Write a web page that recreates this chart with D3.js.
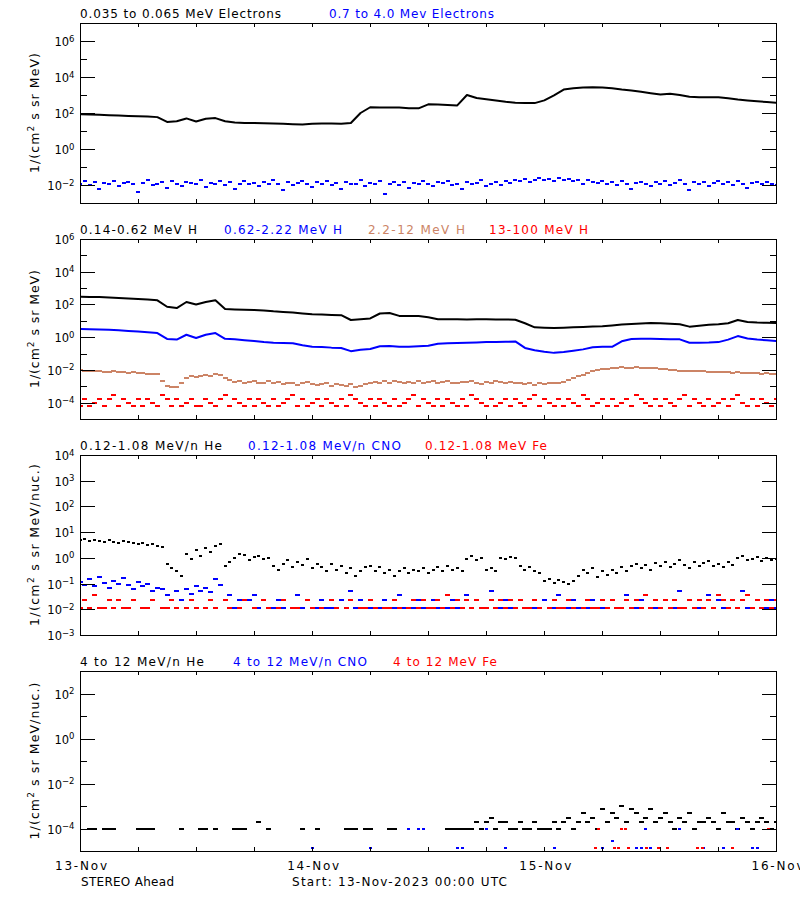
<!DOCTYPE html>
<html><head><meta charset="utf-8">
<script src="https://cdn.jsdelivr.net/npm/d3@7"></script>
<style>
body{margin:0;background:#fff}
svg{display:block}
text{font-family:"DejaVu Sans",sans-serif;}
</style>
</head><body>
<svg id="chart" width="800" height="900"></svg>
<script>
// ---------------- DATA ----------------
const dayLabels = ["13-Nov","14-Nov","15-Nov","16-Nov"];
const dayHours = [0,24,48,72];

// Panel 1 : electrons
const eLowHourly = [85,83,79,76,72,68,66,63,59,32,35,50,34,48,52,35,30,28,28,27,26,25,24,23,25,26,26,25,28,100,209,204,200,200,186,182,302,295,282,263,1000,676,575,501,417,372,363,355,501,955,1995,2399,2630,2692,2630,2344,1995,1778,1514,1259,1072,1175,1000,794,759,741,741,661,562,501,447,407,372];
const eHighHalfHourly = [.012,.016,.010,.014,.006,.013,.011,.017,.009,.013,
.015,.011,.004,.013,.018,.010,.012,.014,.007,.016,
.012,.009,.015,.013,.011,.019,.008,.013,.012,.016,
.010,.014,.006,.012,.017,.011,.013,.009,.015,.012,
.018,.012,.005,.014,.010,.013,.016,.011,.008,.014,
.012,.017,.010,.013,.006,.015,.011,.012,.018,.009,
.013,.011,.016,.003,.012,.014,.010,.015,.007,.013,
.012,.016,.011,.009,.014,.013,.017,.010,.012,.006,
.015,.011,.013,.018,.009,.012,.014,.010,.016,.013,
.020,.017,.022,.015,.019,.024,.018,.021,.016,.023,
.019,.022,.017,.020,.012,.018,.015,.013,.016,.011,
.014,.010,.017,.012,.006,.013,.015,.011,.009,.014,
.012,.016,.010,.013,.018,.011,.005,.014,.012,.015,
.009,.013,.017,.011,.014,.010,.016,.012,.007,.013,
.015,.011,.014,.012,.010];

// Panel 2 : protons
const h1Hourly = [295,288,282,269,251,229,214,200,178,72,
60,141,100,141,178,52,50,48,46,43,
38,35,32,28,25,24,23,22,11.2,12.6,
14,28,30,20,20,19.5,16.6,12.6,12.3,12.6,
12,12.6,12.3,12,12,
11.7,7.1,4.0,3.8,3.7,3.8,4.0,4.2,4.5,4.7,5.2,5.9,6.3,6.9,7.4,7.1,6.6,6.2,4.4,5.0,5.8,6.2,7.1,11.2,8.5,7.9,7.6,7.4];
const h2Hourly = [3.16,3.09,2.95,2.82,2.63,2.40,2.19,2.0,1.78,0.78,
0.71,1.41,0.89,1.41,1.78,0.79,0.74,0.66,0.59,0.50,
0.46,0.44,0.42,0.32,0.26,0.25,0.23,0.22,0.14,0.17,
0.19,0.28,0.29,0.26,0.26,0.28,0.30,0.40,0.42,0.44,
0.46,0.48,0.50,0.50,0.52,0.55,0.22,0.16,0.13,0.11,
0.126,0.15,0.18,0.24,0.26,0.26,0.56,0.78,0.79,0.79,
0.78,0.76,0.74,0.46,0.46,0.47,0.50,0.71,1.17,0.83,
0.72,0.65,0.59];
const h3HalfHourly = [.0095,.0088,.0092,.0080,.0085,.0078,.0074,.0080,.0070,.0073,
.0066,.0071,.0062,.0066,.0060,.0058,.0055,.0020,.0011,.0009,
.0009,.0016,.0034,.0045,.0035,.0042,.0048,.0040,.0058,.0050,
.0032,.0025,.0018,.0022,.0016,.0019,.0021,.0015,.0017,.0020,
.0015,.0018,.0013,.0017,.0016,.0012,.0015,.0018,.0014,.0012,
.0013,.0016,.0011,.0014,.0012,.0010,.0013,.0009,.0011,.0014,
.0016,.0019,.0015,.0020,.0017,.0021,.0018,.0016,.0019,.0017,
.0021,.0015,.0018,.0020,.0016,.0019,.0022,.0017,.0015,.0019,
.0018,.0021,.0016,.0014,.0019,.0017,.0021,.0018,.0016,.0019,
.0015,.0017,.0014,.0016,.0012,.0015,.0013,.0016,.0015,.0017,
.0018,.0024,.0032,.0042,.0052,.0065,.0080,.0095,.0110,.0120,
.0132,.0140,.0145,.0140,.0138,.0142,.0135,.0140,.0132,.0128,
.0120,.0112,.0105,.0098,.0092,.0090,.0087,.0085,.0082,.0080,
.0078,.0075,.0072,.0074,.0070,.0068,.0071,.0066,.0064,.0067,
.0062,.0060,.0063,.0058,.0057];
const h4HalfHourly = [6e-5,1.6e-4,6e-5,1e-4,1.6e-4,6e-5,1.6e-4,3e-4,6e-5,1.6e-4,
1e-4,6e-5,1.6e-4,6e-5,1.6e-4,1e-4,6e-5,3e-4,1.6e-4,6e-5,
1.6e-4,6e-5,1e-4,1.6e-4,6e-5,6e-5,1.6e-4,1e-4,6e-5,1.6e-4,
3e-4,6e-5,1.6e-4,1e-4,6e-5,1.6e-4,6e-5,1.6e-4,1e-4,6e-5,
1.6e-4,6e-5,1e-4,1.6e-4,3e-4,6e-5,1.6e-4,6e-5,1e-4,1.6e-4,
6e-5,1.6e-4,1e-4,6e-5,1.6e-4,6e-5,3e-4,1.6e-4,1e-4,6e-5,
1.6e-4,6e-5,1.6e-4,1e-4,6e-5,1.6e-4,6e-5,1e-4,1.6e-4,3e-4,
6e-5,1.6e-4,1e-4,6e-5,1.6e-4,6e-5,1.6e-4,1e-4,6e-5,1.6e-4,
6e-5,3e-4,1.6e-4,1e-4,6e-5,1.6e-4,6e-5,1e-4,1.6e-4,6e-5,
1.6e-4,1e-4,6e-5,1.6e-4,3e-4,6e-5,1.6e-4,1e-4,6e-5,1.6e-4,
6e-5,1.6e-4,1e-4,6e-5,3e-4,1.6e-4,6e-5,1e-4,1.6e-4,6e-5,
1.6e-4,6e-5,1e-4,1.6e-4,6e-5,3e-4,1.6e-4,1e-4,6e-5,1.6e-4,
6e-5,1.6e-4,1e-4,6e-5,1.6e-4,3e-4,6e-5,1.6e-4,1e-4,6e-5,
1.6e-4,6e-5,1e-4,1.6e-4,6e-5,1.6e-4,3e-4,1e-4,6e-5,1.6e-4,
6e-5,1.6e-4,1e-4,6e-5,1.6e-4];

// Panel 3 : 0.12-1.08 MeV/n ions (0 = no count)
const heLowHalfHourly = [4.8,5.3,4.4,5.0,4.6,4.2,4.9,4.3,3.9,4.5,
4.1,3.7,3.4,3.9,3.2,3.5,2.9,2.6,0.6,0.4,
0.3,0.2,1.4,0.9,2.0,1.2,2.4,1.7,3.0,3.5,
0.5,0.7,1.0,1.4,1.3,0.8,1.1,1.2,0.9,1.0,
0.5,0.35,0.6,0.8,0.45,0.7,0.55,0.9,0.4,0.6,
0.45,0.3,0.6,0.35,0.5,0.25,0.4,0.2,0.3,0.45,
0.5,0.3,0.45,0.25,0.35,0.2,0.3,0.4,0.25,0.35,
0.3,0.4,0.25,0.35,0.45,0.3,0.5,0.35,0.4,0.3,
0.9,1.2,0.8,1.0,0.35,0.4,0.3,1.0,0.9,1.1,
1.0,0.5,0.35,0.45,0.3,0.25,0.13,0.15,0.11,0.14,
0.12,0.10,0.13,0.2,0.35,0.25,0.4,0.18,0.3,0.22,
0.35,0.25,0.45,0.3,0.5,0.6,0.4,0.55,0.35,0.65,
0.5,0.7,0.45,0.6,0.8,0.55,0.4,0.7,0.5,0.65,
0.75,0.5,0.6,0.45,0.7,0.55,1.0,1.2,0.8,0.9,
1.1,0.75,0.95,0.85,0.9];
const cnoLowHalfHourly = [.12,.09,.15,.08,.18,.11,.07,.13,.10,.16,
.09,.06,.12,.08,.10,.05,.07,.06,.035,.024,
.05,.024,.06,.04,.08,.05,.07,.045,.15,.09,
.024,.035,.011,.024,0,.024,.035,.011,.024,0,
.011,.024,.011,0,.011,.035,.011,.024,.011,.011,
.024,.011,.011,0,.024,.011,.05,.011,.024,.011,
.011,0,.011,.024,.011,.011,.035,.011,0,.011,
.024,.011,.011,.024,.011,0,.011,.024,.011,.011,
.035,.011,.024,.011,.011,.05,.011,.011,.024,.011,
.011,.024,.011,0,.011,.011,.024,.011,.011,.035,
.011,.011,.024,.011,0,.011,.024,.011,.011,.011,
.024,.011,.011,.035,.011,.011,.024,0,.011,.011,
.011,.024,.011,.011,.05,.011,.024,.011,.011,.011,
.035,.011,.024,.011,.011,.024,.011,.05,.011,.011,
.024,.011,.011,.024,.011];
const feLowHalfHourly = [.011,.024,.011,.035,.011,.011,.024,.011,.024,.011,
.011,.024,0,.011,.011,.024,0,.011,.011,.024,
.011,0,.011,.024,.011,0,.011,.024,.011,0,
.024,.011,0,.011,.024,0,.011,0,.024,.011,
0,.011,.024,0,.011,.011,0,.024,.011,0,
.011,0,.024,.011,0,.011,.024,0,.011,.011,
.024,.011,0,.011,.011,.024,.011,0,.011,.024,
.011,.024,.011,.011,.024,.011,.035,.011,.024,.011,
.024,.011,.024,.011,.011,.024,.011,.024,.011,.024,
.011,.024,.011,.011,.024,.011,0,.011,.024,.011,
.011,.024,.011,0,.011,.024,.011,.011,.024,.011,
.024,.011,.011,.024,.011,.024,.011,.035,.011,.024,
.011,.024,.011,.024,.011,.011,.024,.011,.024,.011,
.024,.011,.035,.024,.011,.024,.011,.024,.035,.011,
.024,.011,.024,.011,.024];

// Panel 4 : 4-12 MeV/n ions (0 = no count)
const heHighHalfHourly = [0,0,1e-4,1e-4,0,1e-4,1e-4,1e-4,0,0,
0,0,1e-4,1e-4,1e-4,1e-4,0,0,0,0,
0,1e-4,0,0,0,1e-4,1e-4,0,1e-4,0,
0,0,1e-4,1e-4,1e-4,0,0,2e-4,0,1e-4,
0,0,0,0,0,0,1e-4,0,0,1e-4,
0,0,0,0,0,1e-4,1e-4,1e-4,0,1e-4,
1e-4,0,0,0,1e-4,1e-4,0,0,0,0,
0,0,0,0,0,0,1e-4,1e-4,1e-4,1e-4,
1e-4,1e-4,2e-4,1e-4,2e-4,3e-4,1e-4,2e-4,2e-4,1e-4,
1e-4,2e-4,1e-4,1e-4,2e-4,1e-4,1e-4,1e-4,2e-4,1e-4,
2e-4,3e-4,1e-4,2e-4,5e-4,2e-4,3e-4,1e-4,7e-4,2e-4,
5e-4,3e-4,1e-3,2e-4,7e-4,5e-4,2e-4,3e-4,7e-4,2e-4,
3e-4,5e-4,2e-4,1e-4,3e-4,2e-4,5e-4,1e-4,2e-4,2e-4,
3e-4,2e-4,1e-4,5e-4,2e-4,2e-4,1e-4,3e-4,2e-4,1e-4,
2e-4,3e-4,2e-4,1e-4,2e-4];
const cnoHighHours = [24,30,34,35,35.5,39,39.5,42,44,49,54,55,57.5,58,58.5,59,62,64.5,66.5,68,69.5,70];
const cnoHighValues = [1.4e-5,1.4e-5,1e-4,1e-4,1e-4,1.4e-5,1.4e-5,1e-4,1.4e-5,1.4e-5,1.4e-5,2.8e-5,1.4e-5,1.4e-5,1e-4,1.4e-5,1e-4,1.4e-5,1.4e-5,1e-4,1.4e-5,1.4e-5];
const feHighHours = [53.3,53.6,55.3,55.7,56,56.4,56.7,58.6,59.8,60.7,63.8,64.3,67.4,71.2];
const feHighValues = [1.4e-5,1e-4,1.4e-5,1.4e-5,1e-4,1e-4,1.4e-5,1.4e-5,1.4e-5,1.4e-5,1.4e-5,1.4e-5,1.4e-5,1e-4];

// ---------------- STYLE / LAYOUT ----------------
const BLACK = "#000000", BLUE = "#0000ff", RED = "#ff0000", BROWN = "#cc8466";
const svg = d3.select("#chart");
const x = d3.scaleLinear().domain([0, 72]).range([80, 776.5]);
const PH = 180;

const panels = [
  { top: 23, domain: [1e-3, 1e7], labels: [6,4,2,0,-2], major: [6,4,2,0,-2], minor: [5,3,1,-1],
    ytitle: "MeV)", ylen: 120,
    titles: [["0.035 to 0.065 MeV Electrons", BLACK, 80, 201], ["0.7 to 4.0 Mev Electrons", BLUE, 329, 165]],
    series: [
      { type: "dots", vals: eHighHalfHourly, step: 0.5, color: BLUE, w: 4, h: 2 },
      { type: "line", vals: eLowHourly, step: 1, color: BLACK }
    ] },
  { top: 239, domain: [1e-5, 1e6], labels: [6,4,2,0,-2,-4], major: [4,2,0,-2,-4], minor: [5,3,1,-1,-3],
    ytitle: "MeV)", ylen: 118,
    titles: [["0.14-0.62 MeV H", BLACK, 80, 117], ["0.62-2.22 MeV H", BLUE, 224, 118], ["2.2-12 MeV H", BROWN, 368, 97], ["13-100 MeV H", RED, 489, 99]],
    series: [
      { type: "dots", vals: h4HalfHourly, step: 0.5, color: RED, w: 5, h: 2 },
      { type: "dots", vals: h3HalfHourly, step: 0.5, color: BROWN, w: 5, h: 2 },
      { type: "line", vals: h2Hourly, step: 1, color: BLUE },
      { type: "line", vals: h1Hourly, step: 1, color: BLACK }
    ] },
  { top: 455, domain: [1e-3, 1e4], labels: [4,3,2,1,0,-1,-2,-3], major: [3,2,1,0,-1,-2], minor: [],
    ytitle: "MeV/nuc.)", ylen: 162,
    titles: [["0.12-1.08 MeV/n He", BLACK, 80, 142], ["0.12-1.08 MeV/n CNO", BLUE, 248, 153], ["0.12-1.08 MeV Fe", RED, 425, 122]],
    series: [
      { type: "dots", vals: heLowHalfHourly, step: 0.5, color: BLACK, w: 3, h: 2 },
      { type: "dots", vals: cnoLowHalfHourly, step: 0.5, color: BLUE, w: 5, h: 2 },
      { type: "dots", vals: feLowHalfHourly, step: 0.5, color: RED, w: 5, h: 2 }
    ] },
  { top: 671, domain: [1e-5, 1e3], labels: [2,0,-2,-4], major: [2,0,-2,-4], minor: [1,-1,-3],
    ytitle: "MeV/nuc.)", ylen: 157,
    titles: [["4 to 12 MeV/n He", BLACK, 80, 124], ["4 to 12 MeV/n CNO", BLUE, 233, 134], ["4 to 12 MeV Fe", RED, 393, 104]],
    series: [
      { type: "dots", vals: heHighHalfHourly, step: 0.5, color: BLACK, w: 5, h: 2 },
      { type: "sparse", hours: cnoHighHours, vals: cnoHighValues, color: BLUE, w: 3, h: 2 },
      { type: "sparse", hours: feHighHours, vals: feHighValues, color: RED, w: 3, h: 2 }
    ] }
];

const sup = s => s.replace("-", "\u2212");

panels.forEach((p, pi) => {
  const top = p.top, bottom = top + PH;
  const y = d3.scaleLog().domain(p.domain).range([bottom, top]);
  const g = svg.append("g");

  const clipId = "clip" + pi;
  svg.append("clipPath").attr("id", clipId).append("rect")
    .attr("x", 81).attr("y", top + 1).attr("width", 695).attr("height", PH - 1);
  const data = g.append("g").attr("clip-path", `url(#${clipId})`);

  p.series.forEach(s => {
    if (s.type === "line") {
      const line = d3.line().x((d, i) => x(i * s.step)).y(d => y(d));
      data.append("path").attr("d", line(s.vals)).attr("fill", "none")
        .attr("stroke", s.color).attr("stroke-width", 2).attr("stroke-linejoin", "round");
    } else {
      const pts = s.type === "sparse"
        ? s.vals.map((v, i) => [s.hours[i], v])
        : s.vals.map((v, i) => [i * s.step, v]);
      data.selectAll(null).data(pts.filter(d => d[1] > 0)).join("rect")
        .attr("x", d => Math.round(x(d[0]) - s.w / 2))
        .attr("y", d => Math.round(y(d[1]) - s.h / 2))
        .attr("width", s.w).attr("height", s.h).attr("fill", s.color);
    }
  });

  // frame
  g.append("rect").attr("x", 80.5).attr("y", top + 0.5).attr("width", 696).attr("height", PH)
    .attr("fill", "none").attr("stroke", BLACK).attr("stroke-width", 1).attr("shape-rendering", "crispEdges");

  const axStyle = sel => { sel.select(".domain").remove(); sel.selectAll("line").attr("stroke", BLACK).attr("shape-rendering", "crispEdges"); };
  const majorVals = p.major.map(e => Math.pow(10, e));
  const minorVals = p.minor.map(e => Math.pow(10, e));
  g.append("g").attr("transform", "translate(80,0)")
    .call(d3.axisRight(y).tickValues(majorVals).tickSize(15).tickSizeOuter(0).tickFormat("")).call(axStyle);
  g.append("g").attr("transform", "translate(80,0)")
    .call(d3.axisRight(y).tickValues(minorVals).tickSize(7).tickSizeOuter(0).tickFormat("")).call(axStyle);
  g.append("g").attr("transform", "translate(777,0)")
    .call(d3.axisLeft(y).tickValues(majorVals).tickSize(15).tickSizeOuter(0).tickFormat("")).call(axStyle);
  g.append("g").attr("transform", "translate(777,0)")
    .call(d3.axisLeft(y).tickValues(minorVals).tickSize(7).tickSizeOuter(0).tickFormat("")).call(axStyle);
  const xt = d3.range(6, 72, 6);
  g.append("g").attr("transform", `translate(0,${top})`)
    .call(d3.axisBottom(x).tickValues(xt).tickSize(4).tickSizeOuter(0).tickFormat("")).call(axStyle);
  g.append("g").attr("transform", `translate(0,${bottom})`)
    .call(d3.axisTop(x).tickValues(xt).tickSize(4).tickSizeOuter(0).tickFormat("")).call(axStyle);

  p.labels.forEach(e => {
    const t = g.append("text").attr("x", 74.5).attr("y", y(Math.pow(10, e)) + 5)
      .attr("text-anchor", "end").attr("font-size", 11.5).attr("fill", BLACK);
    t.append("tspan").text("10");
    t.append("tspan").attr("dy", -4.5).attr("font-size", 8.5).text(sup(String(e)));
  });

  const yt = g.append("text").attr("transform", `translate(39,${top + PH / 2}) rotate(-90)`)
    .attr("text-anchor", "middle").attr("font-size", 12.5).attr("fill", BLACK)
    .attr("textLength", p.ylen).attr("lengthAdjust", "spacing");
  yt.append("tspan").text("1/(cm");
  yt.append("tspan").attr("dy", -5).attr("font-size", 9).text("2");
  yt.append("tspan").attr("dy", 5).text(" s sr " + p.ytitle);

  p.titles.forEach(([txt, col, tx, tw]) => {
    g.append("text").attr("x", tx).attr("y", top - 5.5).attr("font-size", 12)
      .attr("fill", col).attr("textLength", tw).attr("lengthAdjust", "spacing").text(txt);
  });
});

// bottom date labels (last one runs off the right edge, as in the reference)
svg.append("g").selectAll("text").data(dayLabels).join("text")
  .attr("x", (d, i) => x(dayHours[i]) + 1).attr("y", 870).attr("text-anchor", "middle")
  .attr("font-size", 12).attr("textLength", 52).attr("lengthAdjust", "spacing").text(d => d);
svg.append("text").attr("x", 81).attr("y", 886).attr("font-size", 12)
  .attr("textLength", 93).attr("lengthAdjust", "spacing").text("STEREO Ahead");
svg.append("text").attr("x", 292).attr("y", 886).attr("font-size", 12)
  .attr("textLength", 215).attr("lengthAdjust", "spacing").text("Start: 13-Nov-2023 00:00 UTC");
</script>
</body></html>
